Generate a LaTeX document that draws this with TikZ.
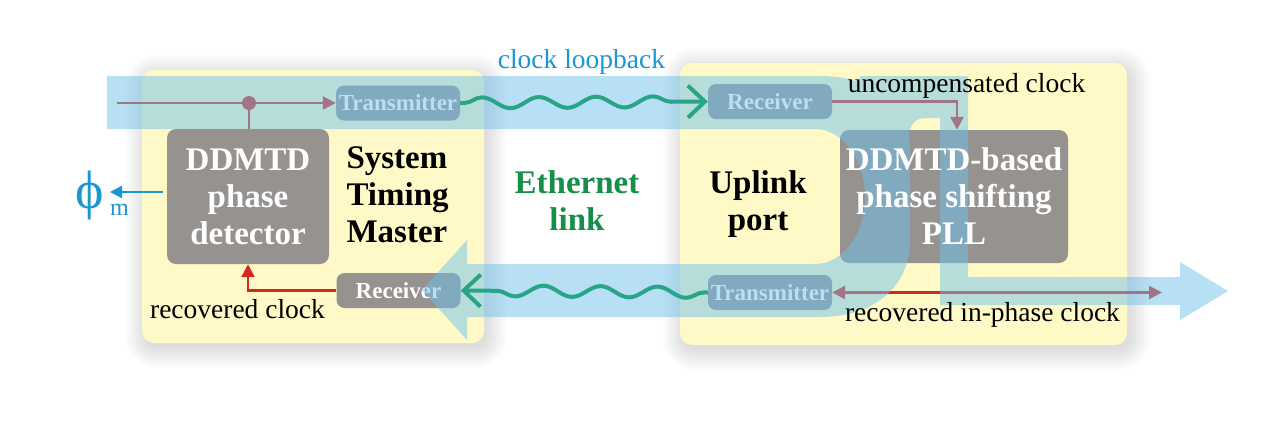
\documentclass[tikz,border=0pt]{standalone}
\usepackage{fontspec}
\setmainfont{Liberation Serif}
\usetikzlibrary{arrows.meta,decorations.pathmorphing}
\definecolor{ybg}{RGB}{255,249,200}
\definecolor{cgray}{RGB}{150,146,144}
\definecolor{rline}{RGB}{214,40,30}
\definecolor{bov}{RGB}{112,194,236}
\definecolor{wavec}{RGB}{40,165,135}
\definecolor{egreen}{RGB}{22,143,74}
\definecolor{lblue}{RGB}{26,150,210}
\tikzset{
 ybox/.style={fill=ybg, rounded corners=12pt},
 shade layer/.style={fill=black, opacity=0.012},
 gbox/.style={fill=cgray, rounded corners=9pt, inner sep=0pt},
 boxtext/.style={text=white, font=\bfseries\fontsize{33}{37}\selectfont, align=center},
 port/.style={fill=cgray, rounded corners=8pt, inner sep=0pt, minimum width=124pt, minimum height=35pt, text=white, font=\bfseries\fontsize{23}{25}\selectfont},
 sig/.style={draw=rline, line width=2.5pt},
 tri/.style={-{Triangle[length=13pt,width=13pt]}},
 wavy/.style={draw=wavec, line width=4pt, decorate, decoration={snake, amplitude=5.5pt, segment length=57pt, pre length=4pt, post length=18pt}},
 lbl/.style={font=\fontsize{27.5}{30}\selectfont},
 big/.style={font=\bfseries\fontsize{33}{37}\selectfont, align=center}
}
\begin{document}
\begin{tikzpicture}[x=1pt,y=-1pt]
\useasboundingbox (0,0) rectangle (1267,429);
\fill[white] (0,0) rectangle (1267,429);
% soft shadows
\foreach \i in {0,2,...,20} {
 \fill[shade layer, rounded corners=12pt+\i pt] (142-\i+3,70-\i+5) rectangle (484+\i+3,343+\i+5);
 \fill[shade layer, rounded corners=12pt+\i pt] (680-\i+3,63-\i+5) rectangle (1127+\i+3,345+\i+5);
}
% yellow boxes
\node[ybox, minimum width=342pt, minimum height=273pt] (lbox) at (313,206.5) {};
\node[ybox, minimum width=447pt, minimum height=282pt] (rbox) at (903.5,204) {};
% gray boxes
\node[gbox, boxtext, minimum width=162pt, minimum height=135pt] (pd) at (248,196.5) {DDMTD\\phase\\detector};
\node[gbox, minimum width=228pt, minimum height=133pt] (pll) at (954,196.5) {};
\node[port] (ltx) at (398,103) {Transmitter};
\node[port] (lrx) at (398.5,290.5) {Receiver};
\node[port] (rrx) at (770,101.5) {Receiver};
\node[port] (rtx) at (770,292.5) {Transmitter};
% signal lines
\coordinate (tin) at (117,103);
\node[circle, fill=rline, inner sep=0pt, minimum size=14pt] (dot) at (249,103) {};
\draw[sig] (tin) -- (dot);
\draw[sig, tri] (dot) -- (ltx.west);
\draw[sig] (dot) -- (dot |- pd.north);
\draw[sig, tri] (lrx.west) -| (pd.south);
\draw[sig, tri] (rrx.east) -| ([xshift=3pt]pll.north);
\coordinate (rout) at (1162,292.5);
\draw[sig, {Triangle[length=13pt,width=13pt]}-{Triangle[length=13pt,width=13pt]}] (rtx.east) -- (rout);
% blue overlay
\fill[bov, opacity=0.5]
 (107,76) -- (820,76) .. controls (880,76) and (910,110) .. (910,150) -- (910,240)
 .. controls (910,290) and (870,317) .. (820,317) -- (467,317) -- (467,340) -- (422,290)
 -- (467,240) -- (467,264) -- (815,264) .. controls (843,264) and (865,234) .. (865,197)
 .. controls (865,160) and (843,129) .. (815,129) -- (107,129) -- cycle
 (860,76) -- (968,76) -- (968,118) -- (925,118) .. controls (913,118) and (908,128) .. (908,145)
 -- (860,145) -- cycle
 (940,76) -- (968,76) -- (968,277) -- (1180,277) -- (1180,262) -- (1228,291) -- (1180,320)
 -- (1180,305) -- (940,305) -- cycle;
% PLL label above the overlay
\node[boxtext] (pllt) at (pll.center) {DDMTD-based\\phase shifting\\PLL};
% waves
\draw[wavy, -{Straight Barb[length=17pt,width=32pt]}] (ltx.east) -- (rrx.west);
\draw[wavy, -{Straight Barb[length=17pt,width=32pt]}] (rtx.west) -- (lrx.east);
% texts
\node[lbl, anchor=base] (unc) at (966.5,92) {uncompensated clock};
\node[lbl, anchor=base] (rip) at (982.5,321) {recovered in-phase clock};
\node[lbl, anchor=base] (rc) at (237.5,318) {recovered clock};
\node[lbl, anchor=base, text=lblue] (cl) at (581.5,68) {clock loopback};
\node[big, text=egreen] (eth) at (577,201) {Ethernet\\link};
\node[big] (up) at (758,204.5) {Uplink\\port};
\node[big, align=left, anchor=west] (stm) at (343,195) {System\\Timing\\Master};
% phi_m
\node[inner sep=0pt, text=lblue, font=\fontsize{54}{54}\selectfont] (phi) at (90,196) {ϕ};
\node[inner sep=0pt, anchor=base west, text=lblue, font=\fontsize{24}{24}\selectfont] (msub) at (110,215) {m};
\coordinate (phtip) at (110,192);
\draw[draw=lblue, line width=2.5pt, -{Triangle[length=12pt,width=12pt]}, shorten <=4pt] (pd.west |- phtip) -- (phtip);
\end{tikzpicture}
\end{document}
